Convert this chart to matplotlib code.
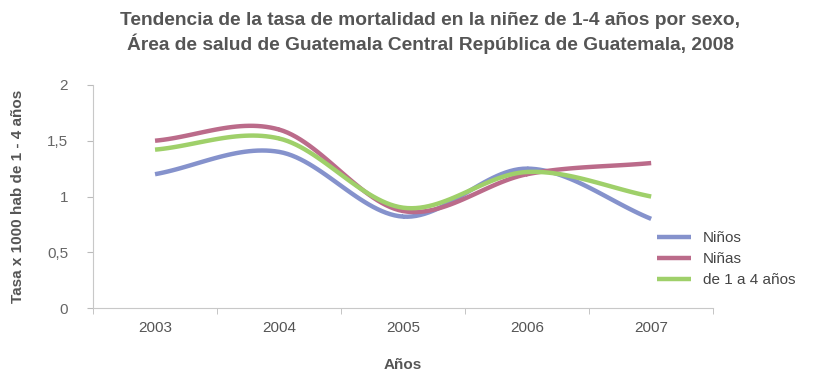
import matplotlib.pyplot as plt
import numpy as np

plt.rcParams['font.family'] = ['Liberation Sans', 'DejaVu Sans']

years = ['2003', '2004', '2005', '2006', '2007']
ninos = [1.2, 1.4, 0.82, 1.25, 0.8]
ninas = [1.5, 1.6, 0.87, 1.2, 1.3]
total = [1.42, 1.52, 0.9, 1.22, 1.0]

series = [
    ('Niños', ninos, '#8592cc'),
    ('Niñas', ninas, '#bb6b8a'),
    ('de 1 a 4 años', total, '#9fd06a'),
]


def smooth(x, y, n=30):
    # catmull-rom curve through the points, just for drawing
    x = np.asarray(x, float)
    y = np.asarray(y, float)
    px = np.concatenate([[2 * x[0] - x[1]], x, [2 * x[-1] - x[-2]]])
    py = np.concatenate([[2 * y[0] - y[1]], y, [2 * y[-1] - y[-2]]])
    xs, ys = [], []
    t = np.linspace(0, 1, n)
    for i in range(1, len(px) - 2):
        for p, out in ((px, xs), (py, ys)):
            p0, p1, p2, p3 = p[i - 1], p[i], p[i + 1], p[i + 2]
            out.extend(0.5 * (2 * p1 + (-p0 + p2) * t
                              + (2 * p0 - 5 * p1 + 4 * p2 - p3) * t ** 2
                              + (-p0 + 3 * p1 - 3 * p2 + p3) * t ** 3))
    return xs, ys


fig = plt.figure(figsize=(8.16, 3.74), dpi=100)
ax = fig.add_axes([0.114, 0.176, 0.76, 0.597])

x = np.arange(len(years))
for name, vals, color in series:
    sx, sy = smooth(x, vals)
    ax.plot(sx, sy, color=color, lw=3.2, label=name, solid_capstyle='butt')

ax.set_xlim(-0.5, len(years) - 0.5)
ax.set_ylim(0, 2)
ax.set_yticks([0, 0.5, 1, 1.5, 2])
ax.set_yticklabels(['0', '0,5', '1', '1,5', '2'])
ax.set_xticks(x)
ax.set_xticklabels(years)
ax.set_xticks(np.arange(-0.5, len(years)), minor=True)
ax.tick_params(axis='x', which='major', length=0, pad=9, labelsize=11, labelcolor='#555555')
ax.tick_params(axis='x', which='minor', length=4, color='#bbbbbb')
ax.tick_params(axis='y', length=4, color='#bbbbbb', pad=14, labelsize=11, labelcolor='#666666')

for s in ['top', 'right']:
    ax.spines[s].set_visible(False)
for s in ['left', 'bottom']:
    ax.spines[s].set_color('#c8c8c8')

ax.set_xlabel('Años', fontsize=11, fontweight='bold', color='#555555', labelpad=17)
ax.set_ylabel('Tasa x 1000 hab de 1 - 4 años', fontsize=11, fontweight='bold',
              color='#555555', labelpad=16)

fig.suptitle('Tendencia de la tasa de mortalidad en la niñez de 1-4 años por sexo,\n'
             'Área de salud de Guatemala Central República de Guatemala, 2008',
             x=0.527, y=0.968, fontsize=13.8, fontweight='bold', color='#555555',
             linespacing=1.25)

ax.legend(loc='upper left', bbox_to_anchor=(0.9, 0.372), frameon=False,
          fontsize=11, labelcolor='#444444', handlelength=2.2, handletextpad=0.8,
          labelspacing=0.45, borderaxespad=0)

fig.savefig('out.png', dpi=100)
